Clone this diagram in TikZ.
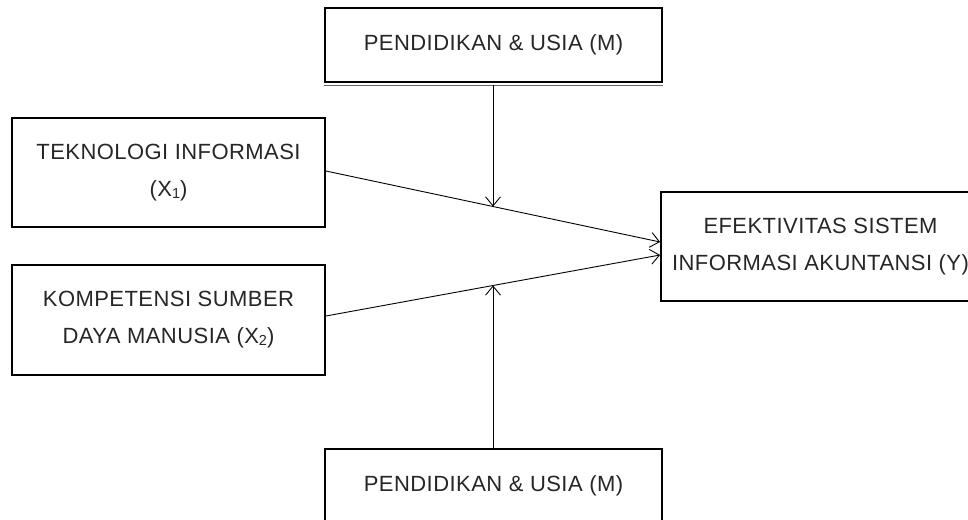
\documentclass[tikz,border=0pt]{standalone}
\usepackage{fontspec}
\setmainfont{Liberation Sans}[LetterSpace=2]
\usetikzlibrary{arrows.meta}
\tikzset{
  boxnode/.style={draw=black, line width=1.8pt, inner sep=0pt, align=center,
    font=\fontsize{22}{37}\selectfont, text=black!85},
  conn/.style={line width=0.9pt, -{Straight Barb[length=9pt,width=15pt,line width=0.9pt]}}
}
\newcommand{\sbx}[1]{\raisebox{-0.15ex}{\fontsize{14.5}{14.5}\selectfont #1}}
\begin{document}
\begin{tikzpicture}[x=1pt,y=-1pt]
\useasboundingbox (0,0) rectangle (968,519);
\clip (0,0) rectangle (968,519);
\node[boxnode, minimum width=337pt, minimum height=74pt] (m1) at (493.5,45) {PENDIDIKAN \& USIA (M)};
\node[boxnode, minimum width=337pt, minimum height=74pt] (m2) at (493.5,486) {PENDIDIKAN \& USIA (M)};
\node[boxnode, minimum width=313pt, minimum height=109pt] (x1) at (168.5,172.5) {TEKNOLOGI INFORMASI\\(X\sbx{1})};
\node[boxnode, minimum width=313pt, minimum height=110pt] (x2) at (168.5,320) {KOMPETENSI SUMBER\\DAYA MANUSIA (X\sbx{2})};
\node[boxnode, minimum width=319pt, minimum height=109pt] (y) at (820.5,246.5) {EFEKTIVITAS SISTEM\\INFORMASI AKUNTANSI (Y)};
\draw[black!60, line width=1pt] ([yshift=-2.5pt]m1.south west) -- ([yshift=-2.5pt]m1.south east);
\draw[conn] ([yshift=1.5pt]x1.east) -- coordinate[pos=0.5] (c1) ([yshift=4.5pt]y.west);
\draw[conn] ([yshift=4pt]x2.east) -- coordinate[pos=0.5] (c2) ([yshift=-8.5pt]y.west);
\draw[conn] ([yshift=-2.5pt]m1.south -| c1) -- (c1);
\draw[conn] (m2.north -| c2) -- (c2);
\end{tikzpicture}
\end{document}
